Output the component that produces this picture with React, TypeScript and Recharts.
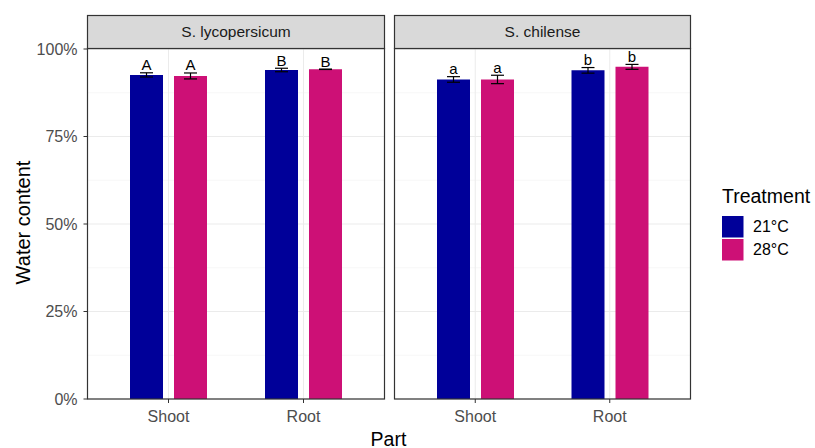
import React from "react";
import {
  BarChart,
  Bar,
  XAxis,
  YAxis,
  CartesianGrid,
  ErrorBar,
  LabelList,
} from "recharts";

const FONT = '"Liberation Sans", Arial, sans-serif';

const parts = ["Shoot", "Root"];
const treatments = ["21°C", "28°C"];
const speciesNames = ["S. lycopersicum", "S. chilense"];

// water content (%) and standard errors
const lyco21 = [92.6, 94.0];
const lyco21Err = [0.6, 0.5];
const lyco28 = [92.3, 94.2];
const lyco28Err = [0.85, 0.05];
const lycoLetters = ["A", "B"];

const chil21 = [91.3, 93.9];
const chil21Err = [0.8, 0.8];
const chil28 = [91.3, 94.9];
const chil28Err = [1.2, 0.7];
const chilLetters = ["a", "b"];

const majorTicks = [0, 25, 50, 75, 100];
const minorTicks = [12.5, 37.5, 62.5, 87.5];

const COLORS = ["#000099", "#CD1076"];

function buildRows(v21: number[], e21: number[], v28: number[], e28: number[]) {
  return parts.map((p, i) => ({
    part: p,
    t21: v21[i],
    t21Err: e21[i],
    t28: v28[i],
    t28Err: e28[i],
  }));
}

const lycoData = buildRows(lyco21, lyco21Err, lyco28, lyco28Err);
const chilData = buildRows(chil21, chil21Err, chil28, chil28Err);

const letterLabel = (letters: string[], errs: number[]) => (props: any) => {
  const { x, y, width, height, value, index } = props;
  const pxPerUnit = Number(height) / Number(value);
  const top = Number(y) - errs[index] * pxPerUnit;
  return (
    <text
      x={Number(x) + Number(width) / 2}
      y={top - 2.5}
      textAnchor="middle"
      fontSize={15}
      fontFamily={FONT}
      fill="#000"
    >
      {letters[index]}
    </text>
  );
};

interface PanelProps {
  data: any[];
  letters: string[];
  err21: number[];
  err28: number[];
  showY: boolean;
  width: number;
}

function Panel({ data, letters, err21, err28, showY, width }: PanelProps) {
  return (
    <BarChart
      width={width}
      height={412}
      data={data}
      margin={{ top: 21, right: 0.5, bottom: 0, left: 0.5 }}
      barSize={33}
      barGap={11}
    >
      <CartesianGrid
        stroke="#F2F2F2"
        strokeWidth={0.6}
        vertical={false}
        horizontalValues={minorTicks}
      />
      <CartesianGrid
        stroke="#EBEBEB"
        strokeWidth={1}
        horizontalValues={majorTicks}
      />
      <XAxis
        dataKey="part"
        height={41}
        padding={{ left: 13.5, right: 13.5 }}
        axisLine={false}
        tickSize={4}
        tickMargin={8}
        tickLine={{ stroke: "#333" }}
        tick={{ fontSize: 16, fill: "#4D4D4D", fontFamily: FONT }}
      />
      <YAxis
        hide={!showY}
        width={87}
        type="number"
        domain={[0, 100]}
        ticks={majorTicks}
        tickFormatter={(v: number) => `${v}%`}
        axisLine={false}
        tickSize={4}
        tickMargin={6}
        tickLine={{ stroke: "#333" }}
        tick={{ fontSize: 16, fill: "#4D4D4D", fontFamily: FONT }}
      />
      <Bar dataKey="t21" fill={COLORS[0]} isAnimationActive={false}>
        <ErrorBar dataKey="t21Err" width={6.5} stroke="#000" strokeWidth={1.2} />
        <LabelList dataKey="t21" content={letterLabel(letters, err21)} />
      </Bar>
      <Bar dataKey="t28" fill={COLORS[1]} isAnimationActive={false}>
        <ErrorBar dataKey="t28Err" width={6.5} stroke="#000" strokeWidth={1.2} />
        <LabelList dataKey="t28" content={letterLabel(letters, err28)} />
      </Bar>
    </BarChart>
  );
}

export default function App() {
  return (
    <div
      style={{
        position: "absolute",
        left: 0,
        top: 0,
        width: 815,
        height: 448,
        background: "#fff",
        fontFamily: FONT,
      }}
    >
      <div style={{ position: "absolute", left: 0, top: 28 }}>
        <Panel data={lycoData} letters={lycoLetters} err21={lyco21Err} err28={lyco28Err} showY width={385} />
      </div>
      <div style={{ position: "absolute", left: 394, top: 28 }}>
        <Panel data={chilData} letters={chilLetters} err21={chil21Err} err28={chil28Err} showY={false} width={297} />
      </div>

      <svg
        width={815}
        height={448}
        style={{ position: "absolute", left: 0, top: 0, pointerEvents: "none" }}
      >
        {/* panel borders */}
        <rect x={87.5} y={48.5} width={297} height={350.5} fill="none" stroke="#333" strokeWidth={1.2} />
        <rect x={394.5} y={48.5} width={296} height={350.5} fill="none" stroke="#333" strokeWidth={1.2} />

        {/* facet strips */}
        <rect x={87.5} y={15.5} width={297} height={33} fill="#D9D9D9" stroke="#333" strokeWidth={1.2} />
        <rect x={394.5} y={15.5} width={296} height={33} fill="#D9D9D9" stroke="#333" strokeWidth={1.2} />
        <text x={236} y={37} textAnchor="middle" fontSize={15.5} fill="#1A1A1A" fontFamily={FONT}>
          {speciesNames[0]}
        </text>
        <text x={542.5} y={37} textAnchor="middle" fontSize={15.5} fill="#1A1A1A" fontFamily={FONT}>
          {speciesNames[1]}
        </text>

        {/* axis titles */}
        <text x={388.5} y={445.5} textAnchor="middle" fontSize={19.5} fill="#000" fontFamily={FONT}>
          Part
        </text>
        <text
          x={0}
          y={0}
          transform="translate(29.5,222.5) rotate(-90)"
          textAnchor="middle"
          fontSize={20}
          fill="#000"
          fontFamily={FONT}
        >
          Water content
        </text>

        {/* legend */}
        <text x={722} y={203} fontSize={19.5} fill="#000" fontFamily={FONT}>
          Treatment
        </text>
        {treatments.map((t, i) => (
          <g key={t}>
            <rect x={722} y={216 + i * 23} width={21.5} height={21.5} fill={COLORS[i]} />
            <text
              x={753}
              y={226.8 + i * 23}
              dominantBaseline="central"
              fontSize={16}
              fill="#000"
              fontFamily={FONT}
            >
              {t}
            </text>
          </g>
        ))}
      </svg>
    </div>
  );
}
